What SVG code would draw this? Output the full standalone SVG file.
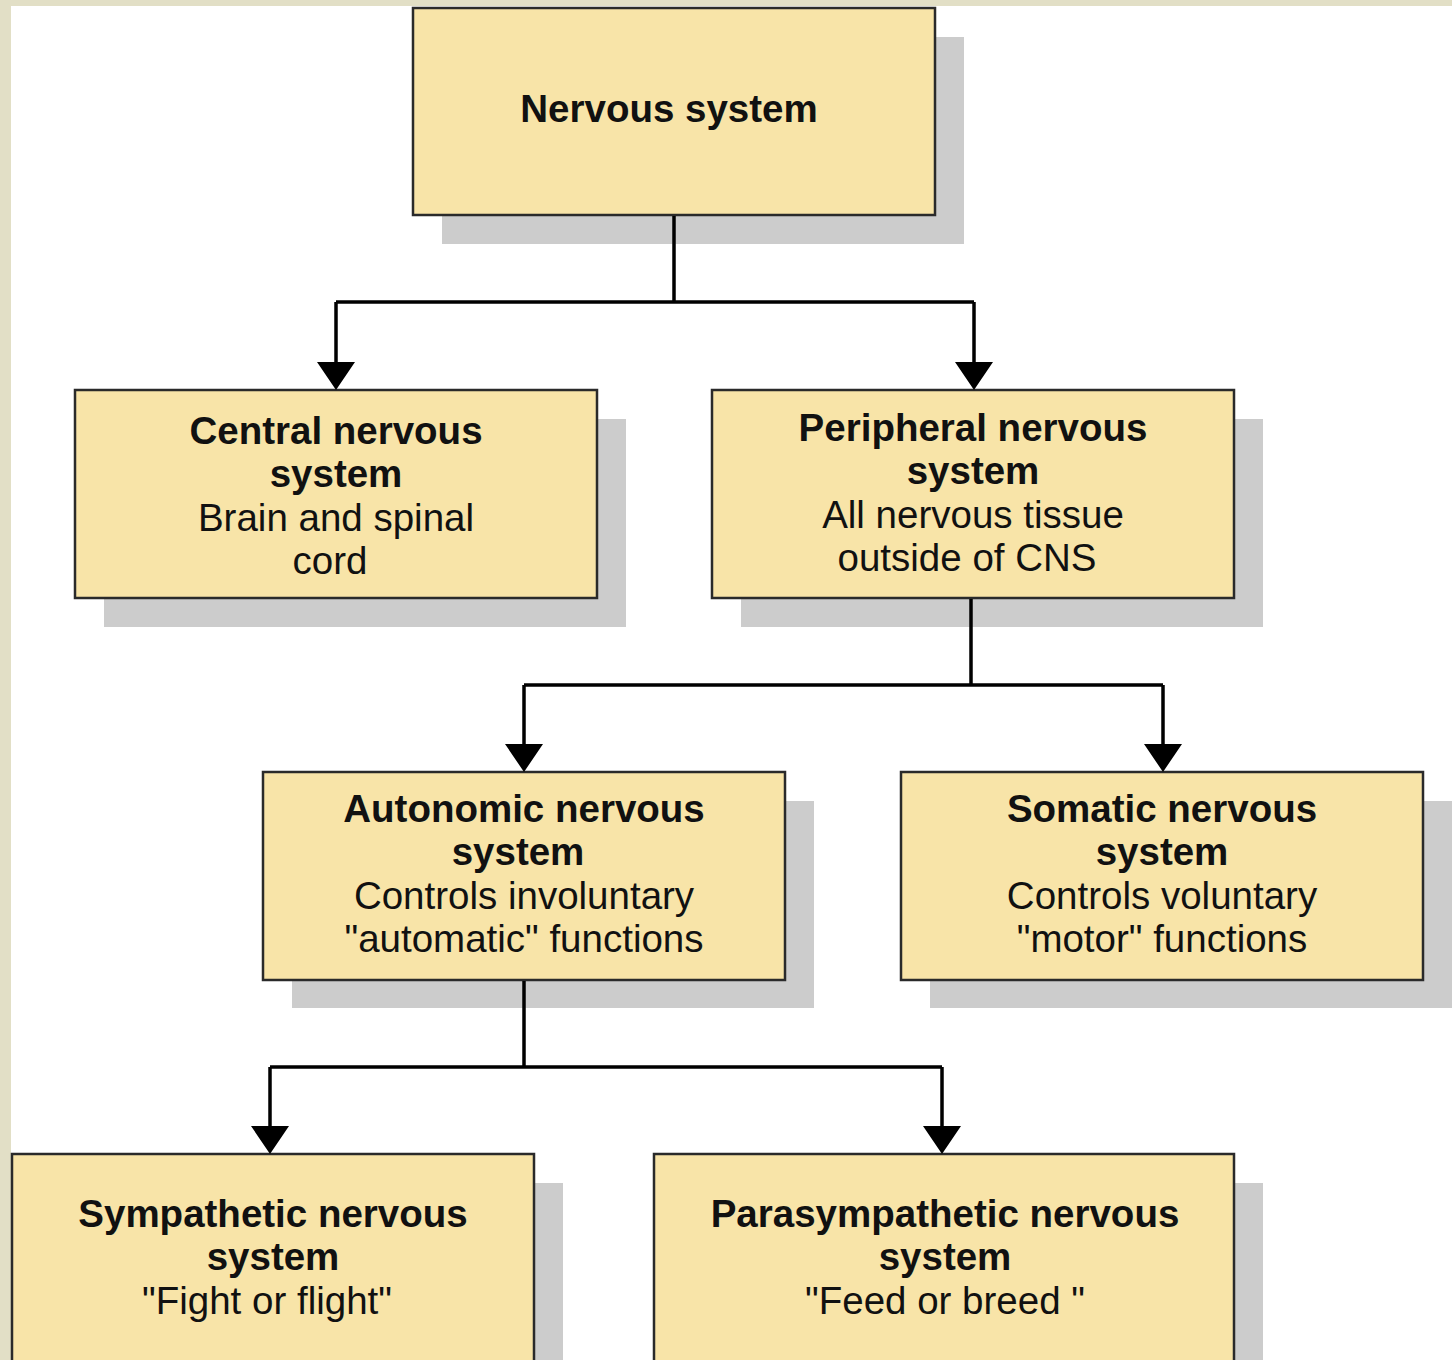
<svg xmlns="http://www.w3.org/2000/svg" width="1452" height="1360" viewBox="0 0 1452 1360">
<style>
.shadow{fill:#cccccc}
.box{fill:#f8e4a8;stroke:#2a2a2a;stroke-width:2.5}
.t{font-family:"Liberation Sans",Arial,sans-serif;font-size:38.5px;fill:#111;text-anchor:middle}
.b{font-weight:bold}
.line{fill:none;stroke:#000;stroke-width:3.5}
.head{fill:#000}
</style>
<rect x="0" y="0" width="1452" height="1360" fill="#ffffff"/>
<rect x="0" y="0" width="1452" height="6" fill="#e2dfc6"/>
<rect x="0" y="0" width="11" height="1360" fill="#e2dfc6"/>

<g id="nervous">
<rect class="shadow" x="442" y="37" width="522" height="207"/>
<rect class="box" x="413" y="8" width="522" height="207"/>
<text class="t b" x="669" y="122">Nervous system</text>
</g>

<g id="cns">
<rect class="shadow" x="104" y="419" width="522" height="208"/>
<rect class="box" x="75" y="390" width="522" height="208"/>
<text class="t b" x="336" y="444">Central nervous</text>
<text class="t b" x="336" y="487">system</text>
<text class="t" x="336" y="531">Brain and spinal</text>
<text class="t" x="330" y="574">cord</text>
</g>

<g id="pns">
<rect class="shadow" x="741" y="419" width="522" height="208"/>
<rect class="box" x="712" y="390" width="522" height="208"/>
<text class="t b" x="973" y="441">Peripheral nervous</text>
<text class="t b" x="973" y="484">system</text>
<text class="t" x="973" y="528">All nervous tissue</text>
<text class="t" x="967" y="571">outside of CNS</text>
</g>

<g id="ans">
<rect class="shadow" x="292" y="801" width="522" height="207"/>
<rect class="box" x="263" y="772" width="522" height="208"/>
<text class="t b" x="524" y="822">Autonomic nervous</text>
<text class="t b" x="518" y="865">system</text>
<text class="t" x="524" y="909">Controls involuntary</text>
<text class="t" x="524" y="952">"automatic" functions</text>
</g>

<g id="somatic">
<rect class="shadow" x="930" y="801" width="522" height="207"/>
<rect class="box" x="901" y="772" width="522" height="208"/>
<text class="t b" x="1162" y="822">Somatic nervous</text>
<text class="t b" x="1162" y="865">system</text>
<text class="t" x="1162" y="909">Controls voluntary</text>
<text class="t" x="1162" y="952">"motor" functions</text>
</g>

<g id="sympathetic">
<rect class="shadow" x="41" y="1183" width="522" height="200"/>
<rect class="box" x="12" y="1154" width="522" height="230"/>
<text class="t b" x="273" y="1227">Sympathetic nervous</text>
<text class="t b" x="273" y="1270">system</text>
<text class="t" x="267" y="1314">"Fight or flight"</text>
</g>

<g id="parasympathetic">
<rect class="shadow" x="683" y="1183" width="580" height="200"/>
<rect class="box" x="654" y="1154" width="580" height="230"/>
<text class="t b" x="945" y="1227">Parasympathetic nervous</text>
<text class="t b" x="945" y="1270">system</text>
<text class="t" x="945" y="1314">"Feed or breed "</text>
</g>

<g id="connectors">
<path class="line" d="M674,216 V302 M336,302 H974 M336,302 V362 M974,302 V362"/>
<path class="head" d="M317,362 H355 L336,390 Z M955,362 H993 L974,390 Z"/>
<path class="line" d="M971,599 V685 M524,685 H1163 M524,685 V744 M1163,685 V744"/>
<path class="head" d="M505,744 H543 L524,772 Z M1144,744 H1182 L1163,772 Z"/>
<path class="line" d="M524,981 V1067 M270,1067 H942 M270,1067 V1126 M942,1067 V1126"/>
<path class="head" d="M251,1126 H289 L270,1154 Z M923,1126 H961 L942,1154 Z"/>
</g>
</svg>
